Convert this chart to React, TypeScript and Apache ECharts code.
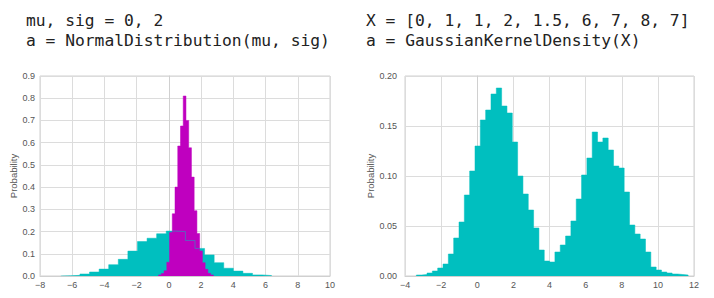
import React, { useEffect, useRef } from "react";
import * as echarts from "echarts";

// Left panel: NormalDistribution histogram (cyan) and a narrow histogram (magenta)
const normalStart = -6.71;
const normalWidth = 0.595;
const normalValues = [0.001, 0.003, 0.009, 0.018, 0.031, 0.051, 0.075, 0.112, 0.155, 0.17, 0.19, 0.202, 0.2, 0.16, 0.124, 0.095, 0.06, 0.035, 0.022, 0.012, 0.005, 0.002];

const narrowStart = -0.64;
const narrowWidth = 0.17;
const narrowValues = [0.005, 0.011, 0.024, 0.062, 0.196, 0.28, 0.4, 0.585, 0.675, 0.81, 0.7, 0.577, 0.445, 0.294, 0.191, 0.113, 0.06, 0.03, 0.012, 0.005];

// Right panel: GaussianKernelDensity histogram
const kdeStart = -3.37;
const kdeWidth = 0.295;
const kdeValues = [0.001, 0.0015, 0.003, 0.005, 0.008, 0.012, 0.022, 0.038, 0.054, 0.081, 0.105, 0.13, 0.156, 0.166, 0.182, 0.188, 0.17, 0.163, 0.134, 0.1, 0.082, 0.066, 0.048, 0.026, 0.015, 0.014, 0.024, 0.031, 0.04, 0.055, 0.077, 0.101, 0.118, 0.144, 0.134, 0.138, 0.126, 0.11, 0.108, 0.084, 0.051, 0.042, 0.037, 0.024, 0.009, 0.006, 0.004, 0.003, 0.002, 0.0015, 0.001];

const leftXTicks = { min: -8, max: 10, interval: 2 };
const leftYTicks = { min: 0, max: 0.9, interval: 0.1 };
const rightXTicks = { min: -4, max: 12, interval: 2 };
const rightYTicks = { min: 0, max: 0.2, interval: 0.05 };

const leftTitle = ["mu, sig = 0, 2", "a = NormalDistribution(mu, sig)"];
const rightTitle = ["X = [0, 1, 1, 2, 1.5, 6, 7, 8, 7]", "a = GaussianKernelDensity(X)"];

const CYAN = "#00bfbf";
const MAGENTA = "#bf00bf";

// Step outline of a histogram: bin i covers [start + i*width, start + (i+1)*width] at height values[i]
function stepPoints(start: number, width: number, values: number[]) {
  const pts: number[][] = [[start, 0]];
  values.forEach((v, i) => pts.push([start + i * width, v]));
  const end = start + values.length * width;
  pts.push([end, values[values.length - 1]]);
  pts.push([end, 0]);
  return pts;
}

function histSeries(name: string, data: number[][], color: string, idx: number) {
  return {
    type: "line",
    name,
    xAxisIndex: idx,
    yAxisIndex: idx,
    data,
    step: "end",
    symbol: "none",
    lineStyle: { width: 0.5, color },
    areaStyle: { color, opacity: 1, origin: 0 },
  };
}

const labelStyle = { color: "#555", fontSize: 9, fontFamily: "Liberation Sans" };
const gridLine = { show: true, lineStyle: { color: "#dcdcdc", width: 1 } };
const minusFmt = (v: number) => String(v).replace("-", "\u2212");

export default function App() {
  const ref = useRef<HTMLDivElement>(null);
  useEffect(() => {
    const chart = echarts.init(ref.current!, null, { renderer: "svg" });
    const axisLine = { show: true, lineStyle: { color: "#d0d0d0", width: 1 } };
    const titleText = (lines: string[], x: number) =>
      lines.map((t, i) => ({
        type: "text",
        left: x,
        top: 12 + i * 20,
        style: { text: t, fill: "#222", font: "16.3px 'DejaVu Sans Mono'" },
      }));
    chart.setOption({
      animation: false,
      backgroundColor: "#ffffff",
      grid: [
        { left: 40, top: 76, width: 290, height: 200, show: true, borderColor: "#d0d0d0", borderWidth: 1, backgroundColor: "transparent" },
        { left: 405, top: 76, width: 289, height: 200, show: true, borderColor: "#d0d0d0", borderWidth: 1, backgroundColor: "transparent" },
      ],
      xAxis: [
        { type: "value", gridIndex: 0, ...leftXTicks, axisLine, axisTick: { show: false }, splitLine: gridLine, axisLabel: { ...labelStyle, margin: 4, formatter: minusFmt } },
        { type: "value", gridIndex: 1, ...rightXTicks, axisLine, axisTick: { show: false }, splitLine: gridLine, axisLabel: { ...labelStyle, margin: 4, formatter: minusFmt } },
      ],
      yAxis: [
        { type: "value", gridIndex: 0, ...leftYTicks, name: "Probability", nameLocation: "middle", nameGap: 22, nameTextStyle: { ...labelStyle, fontSize: 9.5 }, axisLine, axisTick: { show: false }, splitLine: gridLine, axisLabel: { ...labelStyle, margin: 5, formatter: (v: number) => v.toFixed(1) } },
        { type: "value", gridIndex: 1, ...rightYTicks, name: "Probability", nameLocation: "middle", nameGap: 26, nameTextStyle: { ...labelStyle, fontSize: 9.5 }, axisLine, axisTick: { show: false }, splitLine: gridLine, axisLabel: { ...labelStyle, margin: 8, formatter: (v: number) => v.toFixed(2) } },
      ],
      series: [
        histSeries("normal", stepPoints(normalStart, normalWidth, normalValues), CYAN, 0),
        histSeries("narrow", stepPoints(narrowStart, narrowWidth, narrowValues), MAGENTA, 0),
        histSeries("kde", stepPoints(kdeStart, kdeWidth, kdeValues), CYAN, 1),
      ],
      graphic: [...titleText(leftTitle, 26), ...titleText(rightTitle, 366)],
    });
    return () => chart.dispose();
  }, []);
  return <div ref={ref} style={{ position: "fixed", left: 0, top: 0, width: 714, height: 298, background: "#fff" }} />;
}
